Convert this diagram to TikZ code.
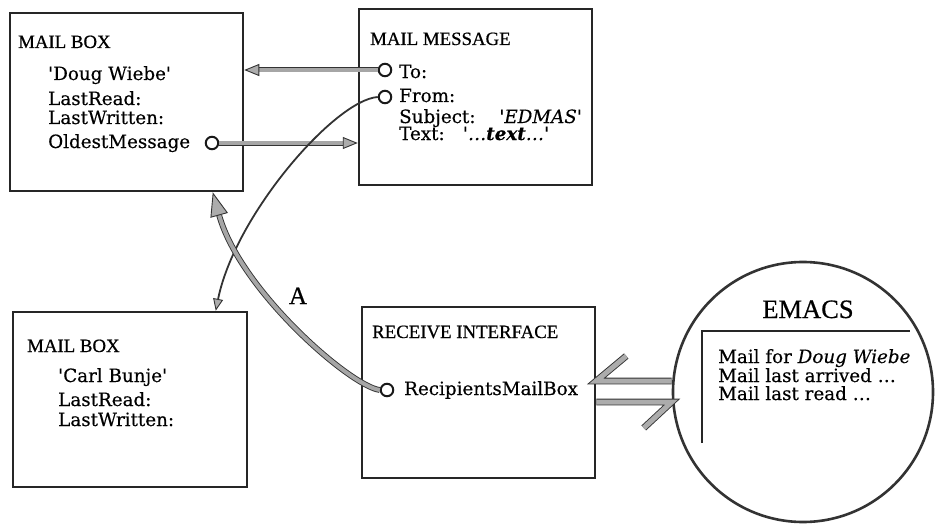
\documentclass[tikz,border=0pt]{standalone}
\usepackage{fontspec}
\setmainfont[FakeBold=0.6]{Liberation Serif}
\newfontfamily\bodyfont[FakeBold=0.4]{DejaVu Serif}
\usetikzlibrary{arrows.meta}

\begin{document}
\begin{tikzpicture}[x=1pt, y=-1pt,
  box/.style 2 args={draw=black!85, line width=2.5pt, minimum width=#1, minimum height=#2, inner sep=0pt},
  heading/.style={anchor=base west, inner sep=0pt, font=\fontsize{18.8}{20}\selectfont},
  field/.style={anchor=base west, inner sep=0pt, font=\bodyfont\fontsize{18.3}{20}\selectfont},
  port/.style={circle, draw=black!90, line width=2pt, fill=white, minimum size=12.5pt, inner sep=0pt},
  pipe/.style={draw=black!80, line width=0.9pt, double=gray!70, double distance=#1},
  pipe/.default=3.2pt,
  wire/.style={draw=black!80, line width=1.8pt},
  head/.style 2 args={-{Triangle[length=#1, width=#2, fill=gray!65, color=black!80, line width=0.9pt]}},
  harpoon/.style={draw=black!80, line width=0.9pt, double=gray!65, double distance=5pt, line join=miter}
]
\useasboundingbox (0,0) rectangle (935,527);

% ---- the four object boxes
\node[box={233pt}{178pt}] (mb1) at (126.5,102) {};
\node[box={233pt}{176pt}] (msg) at (475.5,97) {};
\node[box={234pt}{175pt}] (mb2) at (130,399.5) {};
\node[box={233pt}{171pt}] (ri)  at (478.5,392.5) {};

% ---- the EMACS view
\node[circle, draw=black!80, line width=2.6pt, minimum size=260pt, inner sep=0pt] (emacs) at (803,392) {};
\node[anchor=base, inner sep=0pt, font=\fontsize{26.5}{28}\selectfont] (emacsT) at (808,318) {EMACS};
\draw[draw=black!85, line width=2pt] (702,443) -- (702,331) -- (910,331);
\node[field] (e1) at (718,363) {Mail for \textit{Doug Wiebe}};
\node[field] (e2) at (718,382) {Mail last arrived \dots};
\node[field] (e3) at (718,400) {Mail last read \dots};

% ---- first mail box
\node[heading] (mb1T) at (18,48) {MAIL BOX};
\node[field] (mb1a) at (48,80) {\textquotesingle Doug Wiebe\textquotesingle};
\node[field] (mb1b) at (48,105) {LastRead:};
\node[field] (mb1c) at (48,124) {LastWritten:};
\node[field] (mb1d) at (48,148) {OldestMessage};
\node[port] (oldest) at (212,143) {};

% ---- mail message
\node[heading] (msgT) at (370,45) {MAIL MESSAGE};
\node[port] (to) at (385,70) {};
\node[port] (from) at (385,97) {};
\node[field] (msga) at (399,78) {To:};
\node[field] (msgb) at (399,102) {From:};
\node[field] (msgc) at (399,123) {Subject:\hspace{1.3em}\textit{\textquotesingle EDMAS\textquotesingle}};
\node[field] (msgd) at (399,140) {Text:\hspace{1.0em}\textit{\textquotesingle\dots\textbf{text}\dots\textquotesingle}};

% ---- second mail box
\node[heading] (mb2T) at (27,352) {MAIL BOX};
\node[field] (mb2a) at (58,382) {\textquotesingle Carl Bunje\textquotesingle};
\node[field] (mb2b) at (58,406) {LastRead:};
\node[field] (mb2c) at (58,426) {LastWritten:};

% ---- receive interface
\node[heading] (riT) at (372,338) {RECEIVE INTERFACE};
\node[port] (recip) at (387,390) {};
\node[field] (rif) at (404,395) {RecipientsMailBox};

% ---- references between objects
\draw[pipe, head={15pt}{12pt}] (to.west) -- (mb1.east |- to.west);
\draw[pipe, head={15pt}{12pt}] (oldest.east) -- (msg.west |- oldest.east);
\draw[wire, head={12pt}{10pt}]
  (from.west) .. controls (335,100) and (235,215) .. ([xshift=204pt]mb2.north west);
\draw[pipe=4pt, head={24pt}{18pt}]
  (recip.west) .. controls (350,386) and (240,290) .. ([xshift=204pt]mb1.south west);
\node[inner sep=0pt, anchor=base, font=\fontsize{25}{26}\selectfont] (lblA) at (298,304) {A};

% ---- two-way link to the editor
\draw[harpoon] (emacs.west |- 0,381) -- (ri.east |- 0,381) -- ++(30,-25);
\draw[harpoon] (ri.east |- 0,402) -- (emacs.west |- 0,402) -- ++(-28,26);
\end{tikzpicture}
\end{document}
